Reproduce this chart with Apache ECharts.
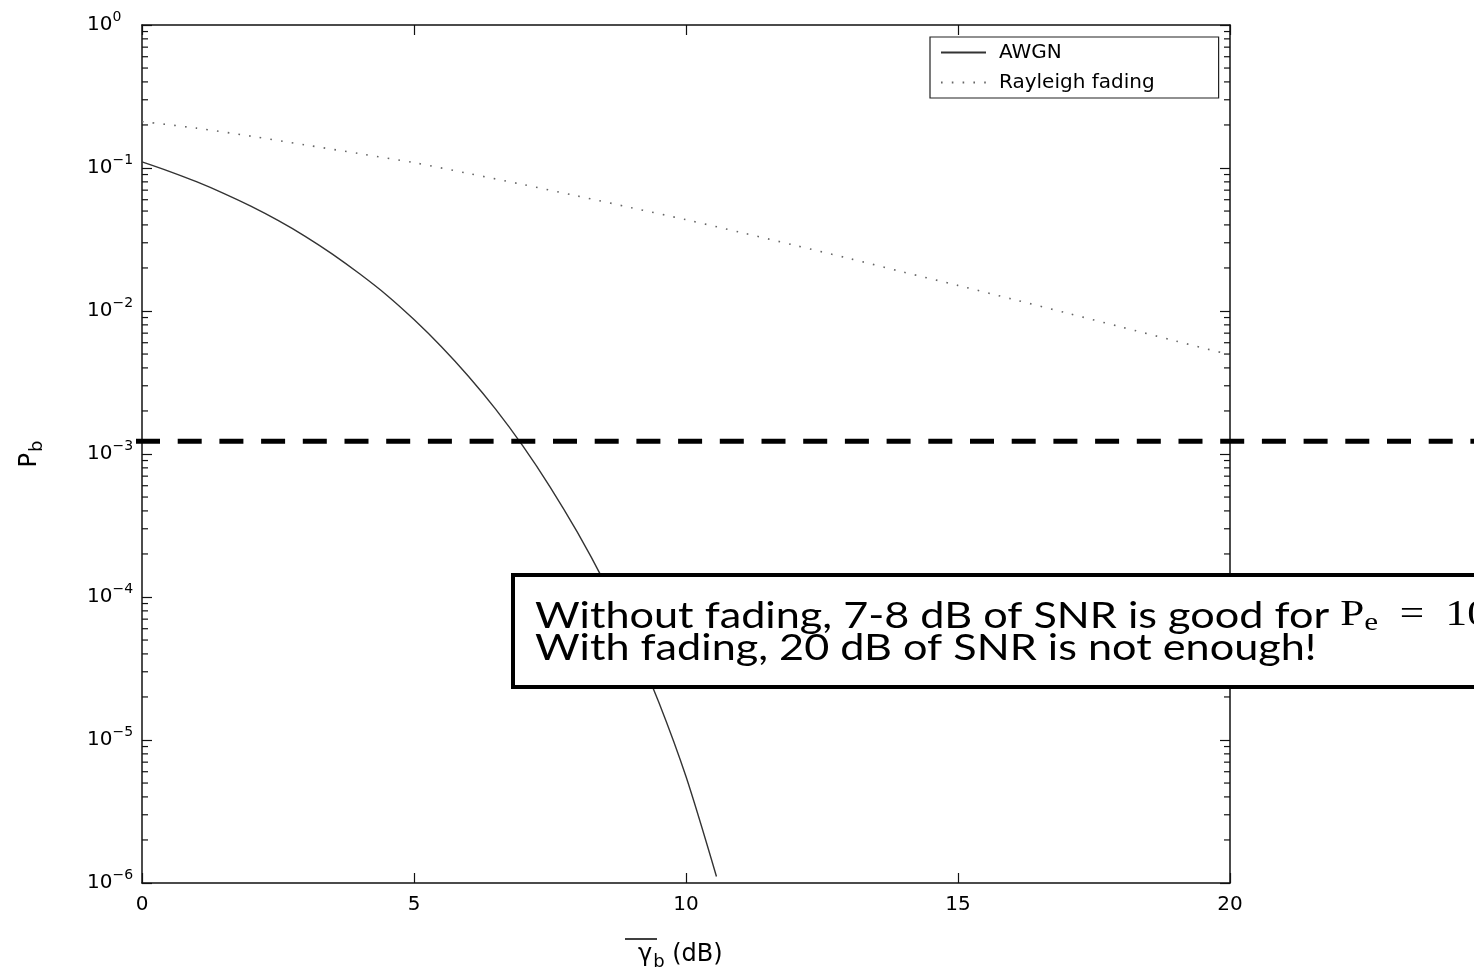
<!DOCTYPE html>
<html><head><meta charset="utf-8">
<script src="https://cdn.jsdelivr.net/npm/echarts@6/dist/echarts.min.js"></script>
<style>html,body{margin:0;padding:0;background:#fff}#c{width:1474px;height:978px}</style>
</head><body><div id="c"></div>
<script>
// ---- data ----
const awgnDb = [0, 0.5, 1.0, 1.5, 2.0, 2.5, 3.0, 3.5, 4.0, 4.5, 5.0, 5.5, 6.0, 6.5, 7.0, 7.5, 8.0, 8.5, 9.0, 9.5, 10.0, 10.56];
const awgnPb = [0.1104, 0.0948, 0.0802, 0.0665, 0.0541, 0.0430, 0.0333, 0.0250, 0.0182, 0.0129, 0.00871, 0.00565, 0.00350, 0.00206, 0.00114, 5.90e-4, 2.85e-4, 1.27e-4, 5.18e-5, 1.84e-5, 5.55e-6, 1.11e-6];
const rayDb = [0, 1, 2, 3, 4, 5, 6, 7, 8, 9, 10, 11, 12, 13, 14, 15, 16, 17, 18, 19, 20];
const rayPb = [0.211, 0.190, 0.167, 0.145, 0.126, 0.109, 0.0916, 0.0767, 0.0638, 0.0527, 0.0435, 0.0355, 0.0288, 0.0233, 0.0187, 0.0151, 0.0121, 0.00968, 0.00773, 0.00617, 0.00494];
const xTickValues = [0, 5, 10, 15, 20];
const yDecadeExponents = [-6, -5, -4, -3, -2, -1, 0];
const minorMultipliers = [2, 3, 4, 5, 6, 7, 8, 9];
const targetPb = 1.23e-3;
const seriesNames = ['AWGN', 'Rayleigh fading'];
const xTitle = ['γ', 'b', ' (dB)'];
const yTitle = ['P', 'b'];
const noteLine1 = ['Without fading, 7-8 dB of SNR is good for ', 'P', 'e', '\u2002=\u200210', '−3'];
const noteLine2 = 'With fading, 20 dB of SNR is not enough!';

// ---- derived ----
const minorTickValues = [];
yDecadeExponents.slice(0, -1).forEach(e => minorMultipliers.forEach(m => minorTickValues.push([0, m * Math.pow(10, e)])));
const awgnData = awgnDb.map((d, i) => [d, awgnPb[i]]);
const rayData = rayDb.map((d, i) => [d, rayPb[i]]);

const chart = echarts.init(document.getElementById('c'), null, {renderer: 'canvas'});
const axisColor = '#111';
const baseFont = 'DejaVu Sans, Liberation Sans, sans-serif';
const serifFont = 'Liberation Serif, DejaVu Serif, serif';

const xCommon = {
  type: 'value', min: 0, max: 20, interval: 5,
  axisLine: {show: true, onZero: false, lineStyle: {color: axisColor, width: 1.5}},
  axisTick: {show: true, inside: true, length: 10, lineStyle: {color: axisColor, width: 1.2}},
  splitLine: {show: false}
};
const yCommon = {
  type: 'log', logBase: 10, min: 1e-6, max: 1, splitNumber: 6,
  axisLine: {show: true, onZero: false, lineStyle: {color: axisColor, width: 1.5}},
  axisTick: {show: true, inside: true, length: 10, lineStyle: {color: axisColor, width: 1.2}},
  splitLine: {show: false}
};

const option = {
  backgroundColor: '#fff',
  animation: false,
  grid: {left: 142, right: 244, top: 25, bottom: 95, containLabel: false},
  legend: {
    data: seriesNames,
    orient: 'vertical', left: 930, top: 37,
    itemWidth: 45, itemHeight: 14, itemGap: 7,
    borderColor: '#222', borderWidth: 1.2, backgroundColor: '#fff',
    padding: [4, 64, 4, 10],
    itemStyle: {opacity: 0},
    textStyle: {fontFamily: baseFont, fontSize: 20, lineHeight: 23, color: '#000', padding: [0, 0, 0, 8]},
    z: 10
  },
  xAxis: [
    Object.assign({}, xCommon, {
      position: 'bottom',
      axisLabel: {show: true, margin: 12, fontFamily: baseFont, fontSize: 20, color: '#000',
        formatter: v => xTickValues.includes(v) ? String(v) : ''}
    }),
    Object.assign({}, xCommon, {position: 'top', axisLabel: {show: false}})
  ],
  yAxis: [
    Object.assign({}, yCommon, {
      position: 'left',
      axisLabel: {show: true, margin: 55, align: 'left',
        formatter: v => '{b|10}{s|' + String(Math.round(Math.log10(v))).replace('-', '−') + '}',
        rich: {b: {fontSize: 20, fontFamily: baseFont, color: '#000'}, s: {fontSize: 14, fontFamily: baseFont, color: '#000', padding: [0, 0, 16, 0]}}},
      name: '{p|' + yTitle[0] + '}{sub|' + yTitle[1] + '}', nameLocation: 'middle', nameGap: 96,
      nameTextStyle: {fontFamily: baseFont, color: '#000',
        rich: {p: {fontSize: 24, fontFamily: baseFont, color: '#000'}, sub: {fontSize: 18, fontFamily: baseFont, color: '#000', padding: [14, 0, 0, 1]}}}
    }),
    Object.assign({}, yCommon, {position: 'right', axisLabel: {show: false}})
  ],
  series: [
    {
      name: seriesNames[0], type: 'line', data: awgnData, xAxisIndex: 0, yAxisIndex: 0,
      symbol: 'none', smooth: 0.3,
      lineStyle: {color: '#333', width: 1.4, type: 'solid'}, itemStyle: {color: '#333'}, z: 3
    },
    {
      name: seriesNames[1], type: 'line', data: rayData, xAxisIndex: 0, yAxisIndex: 0,
      symbol: 'none', smooth: 0.3,
      lineStyle: {color: '#666', width: 1.6, type: [1.6, 9.2]}, itemStyle: {color: '#666'}, z: 3
    },
    {
      name: 'minorTicks', type: 'custom', data: minorTickValues, xAxisIndex: 0, yAxisIndex: 0,
      silent: true, clip: false, z: 4,
      renderItem: function (params, api) {
        const v = api.value(1);
        const pL = api.coord([0, v]);
        const pR = api.coord([20, v]);
        const st = {stroke: axisColor, lineWidth: 1.2};
        return {type: 'group', children: [
          {type: 'line', shape: {x1: pL[0], y1: pL[1], x2: pL[0] + 6, y2: pL[1]}, style: st},
          {type: 'line', shape: {x1: pR[0], y1: pR[1], x2: pR[0] - 6, y2: pR[1]}, style: st}
        ]};
      }
    }
  ]
};
chart.setOption(option);

// dashed target line, x-axis title and annotation
const yT = chart.convertToPixel({yAxisIndex: 0}, targetPb);
const x0 = chart.convertToPixel({xAxisIndex: 0}, 0);
chart.setOption({
  graphic: [
    {type: 'line', z: 50, silent: true,
      shape: {x1: x0 - 6, y1: yT, x2: 1474, y2: yT},
      style: {stroke: '#000', lineWidth: 5, lineDash: [24, 17.7]}},
    {type: 'group', z: 50, silent: true, children: [
      {type: 'line', shape: {x1: 625, y1: 939, x2: 657, y2: 939}, style: {stroke: '#000', lineWidth: 1.5}},
      {type: 'text', x: 638, y: 955, style: {
        text: '{g|' + xTitle[0] + '}{sub|' + xTitle[1] + '}{t|' + xTitle[2] + '}',
        verticalAlign: 'middle', align: 'left', fill: '#000',
        rich: {g: {fontSize: 24, fontFamily: baseFont, fill: '#000'},
               sub: {fontSize: 18, fontFamily: baseFont, fill: '#000', padding: [14, 0, 0, 1]},
               t: {fontSize: 24, fontFamily: baseFont, fill: '#000'}}
      }}
    ]},
    {type: 'rect', z: 60, silent: true,
      shape: {x: 513, y: 575, width: 1100, height: 112},
      style: {fill: '#fff', stroke: '#000', lineWidth: 4}},
    {type: 'text', z: 61, silent: true, x: 535, y: 600, scaleX: 1.2,
      style: {
        text: noteLine1[0] + '{m|' + noteLine1[1] + '}{sub|' + noteLine1[2] + '}{m|' + noteLine1[3] + '}{sup|' + noteLine1[4] + '}\n' + noteLine2,
        fontFamily: 'Lato, sans-serif', fontSize: 36, lineHeight: 32, fill: '#000',
        rich: {
          m: {fontFamily: serifFont, fontSize: 36, fill: '#000'},
          sub: {fontFamily: serifFont, fontSize: 26, padding: [14, 0, 0, 0], fill: '#000'},
          sup: {fontFamily: serifFont, fontSize: 22, padding: [0, 0, 14, 0], fill: '#000'}
        }
      }}
  ]
});
</script>
</body></html>
